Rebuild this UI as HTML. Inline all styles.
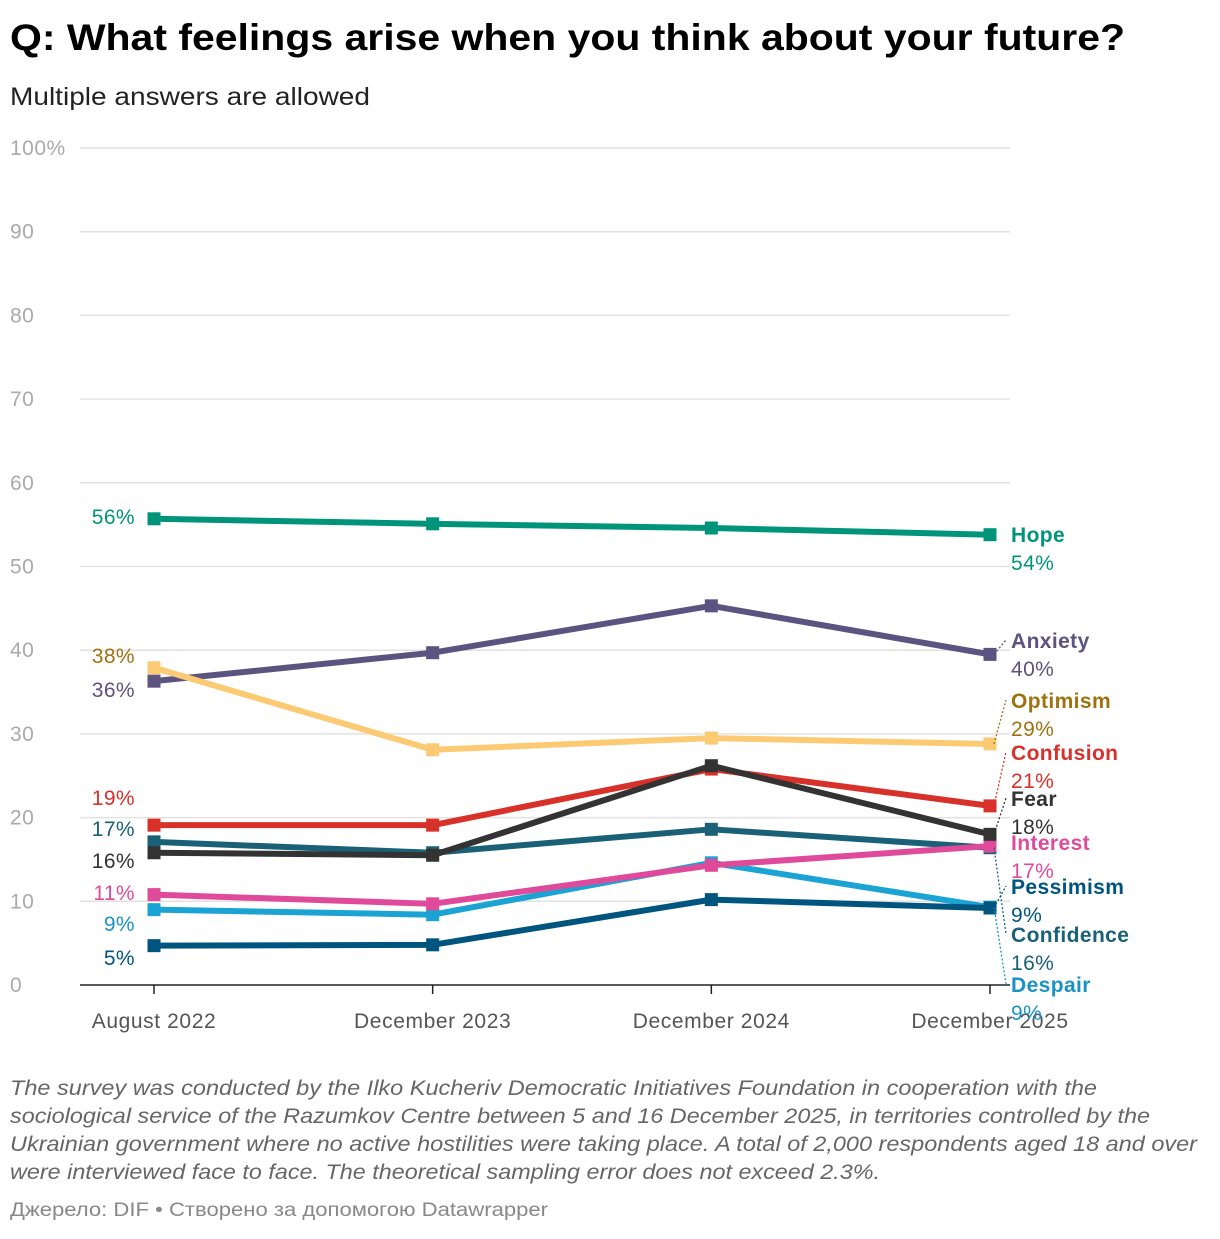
<!DOCTYPE html>
<html><head><meta charset="utf-8"><style>
body{margin:0;background:#fff;font-family:"Liberation Sans",sans-serif;}
svg text{font-family:"Liberation Sans",sans-serif;}
</style></head><body>
<svg id="c" width="1220" height="1234" xmlns="http://www.w3.org/2000/svg">
<text x="10" y="50" font-size="37" font-weight="bold" fill="#000" textLength="1115" lengthAdjust="spacingAndGlyphs">Q: What feelings arise when you think about your future?</text>
<text x="10" y="105" font-size="25" fill="#222" textLength="360" lengthAdjust="spacingAndGlyphs">Multiple answers are allowed</text>
<g id="grid"></g><g id="lines"></g><g id="labels"></g>
<g font-size="21" font-style="italic" fill="#666">
<text x="10" y="1095" textLength="1087" lengthAdjust="spacingAndGlyphs">The survey was conducted by the Ilko Kucheriv Democratic Initiatives Foundation in cooperation with the</text>
<text x="10" y="1123" textLength="1140" lengthAdjust="spacingAndGlyphs">sociological service of the Razumkov Centre between 5 and 16 December 2025, in territories controlled by the</text>
<text x="10" y="1151" textLength="1187" lengthAdjust="spacingAndGlyphs">Ukrainian government where no active hostilities were taking place. A total of 2,000 respondents aged 18 and over</text>
<text x="10" y="1179" textLength="870" lengthAdjust="spacingAndGlyphs">were interviewed face to face. The theoretical sampling error does not exceed 2.3%.</text>
</g>
<text x="10" y="1216" font-size="19" fill="#888" textLength="538" lengthAdjust="spacingAndGlyphs">Джерело: DIF • Створено за допомогою Datawrapper</text>
</svg>
<script>
const categories=["August 2022","December 2023","December 2024","December 2025"];
const yTicks=[0,10,20,30,40,50,60,70,80,90,100];
const seriesNames=["Hope","Anxiety","Optimism","Confusion","Fear","Confidence","Interest","Despair","Pessimism"];
const hope=[55.7,55.1,54.6,53.8];
const anxiety=[36.3,39.7,45.3,39.5];
const optimism=[37.9,28.1,29.5,28.8];
const confusion=[19.1,19.1,25.8,21.4];
const fear=[15.8,15.5,26.2,18.0];
const confidence=[17.1,15.8,18.6,16.4];
const interest=[10.8,9.7,14.3,16.6];
const despair=[9.0,8.4,14.6,9.3];
const pessimism=[4.7,4.8,10.2,9.2];
const values=[hope,anxiety,optimism,confusion,fear,confidence,interest,despair,pessimism];
const colors=["#00957a","#5c5480","#fdca74","#d7312a","#333333","#1a6178","#e04a9b","#1ba3d4","#00557f"];
const textColors=["#00957a","#5c5480","#a0720f","#d7312a","#333333","#1a6178","#e04a9b","#1a93c4","#00557f"];
// layout (not data)
const leftLabelY=[517,690,656,798,861,829,893,924,958];
const rightLabelY=[542,648,708,760,806,942,850,992,894];
const drawOrder=[0,1,2,3,5,7,6,8,4];
const NS="http://www.w3.org/2000/svg";
const X0=154,X1=990,Y0=985,Y1=148;
const x=i=>X0+i*(X1-X0)/(categories.length-1);
const y=v=>Y0-v*(Y0-Y1)/100;
function mk(tag,attrs,parent){const e=document.createElementNS(NS,tag);for(const k in attrs)e.setAttribute(k,attrs[k]);parent.appendChild(e);return e;}
const grid=document.getElementById('grid'),lines=document.getElementById('lines'),labels=document.getElementById('labels');
yTicks.forEach(t=>{
  if(t>0){const l=mk('line',{x1:80,x2:1010,y1:y(t),y2:y(t),stroke:'#e2e2e2','stroke-width':1.5},grid);
  
  }
  const tx=mk('text',{x:10,y:y(t)+7,'font-size':21,fill:'#aaa','letter-spacing':0.5},grid);tx.textContent=t===100?'100%':t;
  
  
});
const ax=mk('line',{x1:80,x2:1010,y1:Y0,y2:Y0,stroke:'#222','stroke-width':1.5},grid);


categories.forEach((c,i)=>{
  mk('line',{x1:x(i),x2:x(i),y1:Y0,y2:Y0+9,stroke:'#222','stroke-width':1.5},grid);
  const t=mk('text',{x:x(i),y:1028,'font-size':21,fill:'#555','text-anchor':'middle','letter-spacing':0.6},grid);t.textContent=c;
  
  
});
drawOrder.forEach(s=>{
  const vals=values[s];
  const g=mk('g',{},lines);
  
  
  mk('polyline',{points:vals.map((v,i)=>x(i)+','+y(v)).join(' '),fill:'none',stroke:colors[s],'stroke-width':6,'stroke-linejoin':'round'},g);
  vals.forEach((v,i)=>{const r=mk('rect',{x:x(i)-6.5,y:y(v)-6.5,width:13,height:13,fill:colors[s]},g);
    
    });
});
seriesNames.forEach((n,s)=>{
  const vals=values[s];
  const l=mk('text',{x:135,y:leftLabelY[s]+7,'font-size':21,fill:textColors[s],'text-anchor':'end','letter-spacing':0.4},labels);
  l.textContent=Math.round(vals[0])+'%';
  
  
  const last=vals[vals.length-1],ly=rightLabelY[s];
  if(Math.abs(y(last)-(ly-7))>12){
    const c=mk('line',{x1:994,y1:y(last),x2:1006,y2:ly-8,stroke:textColors[s],'stroke-width':1.3,'stroke-dasharray':'2,2'},labels);
    
    
  }
  const t=mk('text',{x:1011,y:ly,'font-size':21,'font-weight':'bold',fill:textColors[s],'letter-spacing':0.4},labels);t.textContent=n;
  
  
  const p=mk('text',{x:1011,y:ly+28,'font-size':21,fill:textColors[s],'letter-spacing':0.4},labels);p.textContent=Math.round(last)+'%';
  
  
});
</script>
</body></html>
